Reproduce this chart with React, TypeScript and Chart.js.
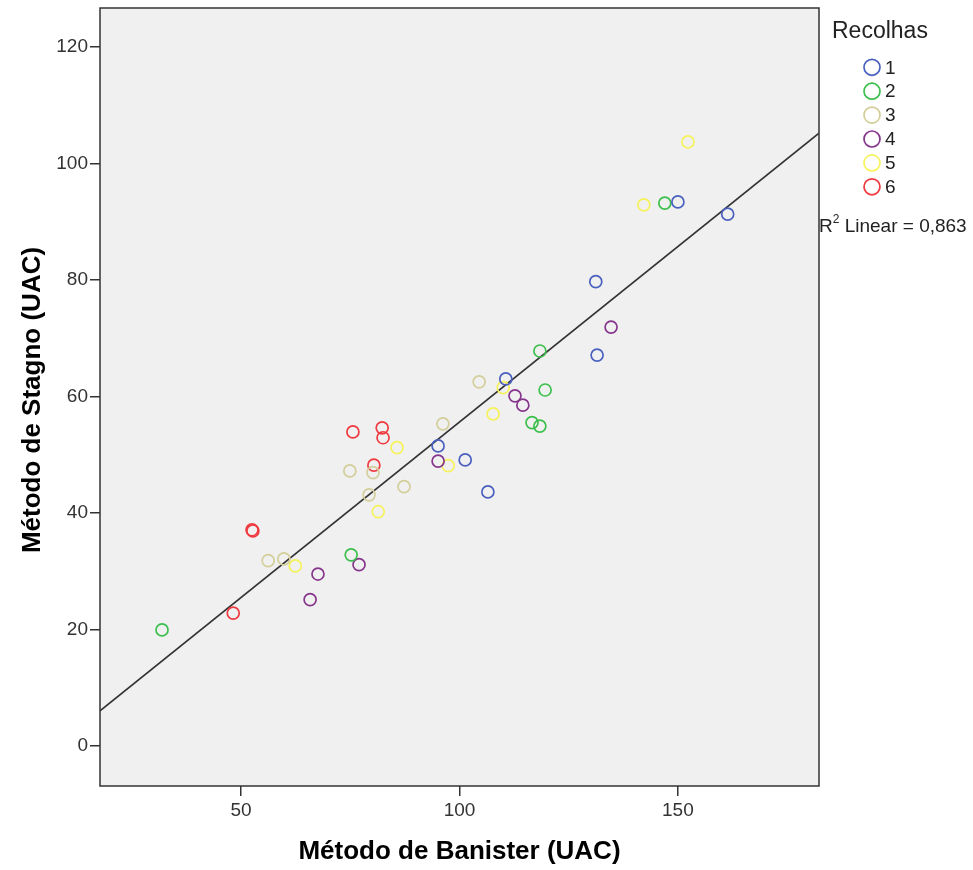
import React, { useEffect, useRef } from "react";
import { Chart, registerables } from "chart.js";

Chart.register(...registerables);

const FONT = "'Liberation Sans', Arial, sans-serif";

const X_TICKS = [50, 100, 150];
const Y_TICKS = [0, 20, 40, 60, 80, 100, 120];
const X_RANGE = [17.7, 182.3];
const Y_RANGE = [-6.9, 126.7];

const GROUPS = ["1", "2", "3", "4", "5", "6"];
const COLORS = ["#4a60bf", "#3cbf4c", "#d3ce9a", "#86358c", "#f6f25a", "#ef3a40"];

const G1_X = [161.4, 150.0, 131.2, 131.5, 110.6, 95.1, 101.3, 106.5];
const G1_Y = [91.3, 93.4, 79.7, 67.1, 63.0, 51.5, 49.1, 43.6];
const G2_X = [147.0, 118.4, 119.6, 116.6, 118.4, 75.2, 31.9];
const G2_Y = [93.2, 67.8, 61.1, 55.5, 54.9, 32.8, 19.9];
const G3_X = [104.5, 96.2, 74.9, 80.2, 87.3, 79.3, 56.2, 59.8];
const G3_Y = [62.5, 55.3, 47.2, 46.9, 44.5, 43.1, 31.8, 32.1];
const G4_X = [134.7, 112.7, 114.5, 95.1, 67.6, 77.0, 65.8];
const G4_Y = [71.9, 60.1, 58.5, 48.9, 29.5, 31.1, 25.1];
const G5_X = [152.3, 142.2, 110.0, 107.7, 85.7, 97.4, 81.4, 62.4];
const G5_Y = [103.7, 92.9, 61.5, 57.0, 51.2, 48.1, 40.2, 30.9];
const G6_X = [75.6, 82.3, 82.5, 80.4, 52.5, 52.7, 48.2];
const G6_Y = [53.9, 54.6, 52.9, 48.2, 37.1, 36.9, 22.8];

const GROUP_X = [G1_X, G2_X, G3_X, G4_X, G5_X, G6_X];
const GROUP_Y = [G1_Y, G2_Y, G3_Y, G4_Y, G5_Y, G6_Y];

const LINE_X = [17.7, 182.3];
const LINE_Y = [6.0, 105.2];

const LEGEND_TITLE = "Recolhas";
const X_TITLE = "Método de Banister (UAC)";
const Y_TITLE = "Método de Stagno (UAC)";
const R2_VALUE = "0,863";

const decorPlugin = {
  id: "decor",
  beforeDraw(chart: any) {
    const { ctx, chartArea: a } = chart;
    ctx.save();
    ctx.fillStyle = "#f0f0f0";
    ctx.fillRect(a.left, a.top, a.right - a.left, a.bottom - a.top);
    ctx.restore();
  },
  afterDraw(chart: any) {
    const { ctx, chartArea: a } = chart;
    ctx.save();
    // plot border
    ctx.strokeStyle = "#333";
    ctx.lineWidth = 1.5;
    ctx.strokeRect(a.left, a.top, a.right - a.left, a.bottom - a.top);

    // axis titles
    ctx.fillStyle = "#000";
    ctx.font = `bold 26px ${FONT}`;
    ctx.textAlign = "center";
    ctx.textBaseline = "middle";
    ctx.fillText(X_TITLE, (a.left + a.right) / 2, 852);
    ctx.save();
    ctx.translate(33, 400);
    ctx.rotate(-Math.PI / 2);
    ctx.fillText(Y_TITLE, 0, 0);
    ctx.restore();

    // legend
    ctx.textAlign = "left";
    ctx.fillStyle = "#222";
    ctx.font = `23px ${FONT}`;
    ctx.fillText(LEGEND_TITLE, 832, 32);
    ctx.font = `19px ${FONT}`;
    GROUPS.forEach((g, i) => {
      const cy = 67.3 + i * 23.9;
      ctx.beginPath();
      ctx.arc(872, cy, 8, 0, Math.PI * 2);
      ctx.strokeStyle = COLORS[i];
      ctx.lineWidth = 1.7;
      ctx.stroke();
      ctx.fillStyle = "#222";
      ctx.fillText(g, 885, cy + 1);
    });

    // R2 text
    ctx.textBaseline = "alphabetic";
    ctx.font = `19px ${FONT}`;
    let x = 819;
    ctx.fillText("R", x, 232);
    x += ctx.measureText("R").width;
    ctx.font = `12px ${FONT}`;
    ctx.fillText("2", x, 223);
    x += ctx.measureText("2").width;
    ctx.font = `19px ${FONT}`;
    ctx.fillText(` Linear = ${R2_VALUE}`, x, 232);
    ctx.restore();
  },
};

export default function App() {
  const ref = useRef<HTMLCanvasElement>(null);
  useEffect(() => {
    document.body.style.margin = "0";
    const datasets: any[] = GROUPS.map((g, i) => ({
      type: "scatter",
      label: g,
      data: GROUP_X[i].map((x, j) => ({ x, y: GROUP_Y[i][j] })),
      borderColor: COLORS[i],
      backgroundColor: "rgba(0,0,0,0)",
      pointRadius: 6,
      pointBorderWidth: 1.7,
      pointHoverRadius: 6,
    }));
    datasets.push({
      type: "line",
      label: "fit",
      data: LINE_X.map((x, j) => ({ x, y: LINE_Y[j] })),
      borderColor: "#333",
      borderWidth: 1.6,
      pointRadius: 0,
      fill: false,
    });
    const tickGrid = {
      display: true,
      drawOnChartArea: false,
      drawTicks: true,
      tickLength: 10,
      color: "#333",
      lineWidth: 1.5,
    };
    const chart = new Chart(ref.current!, {
      type: "scatter",
      data: { datasets },
      plugins: [decorPlugin],
      options: {
        animation: false,
        responsive: false,
        events: [],
        layout: { padding: { top: 8, right: 154, left: 0, bottom: 0 } },
        plugins: { legend: { display: false }, tooltip: { enabled: false } },
        scales: {
          x: {
            type: "linear",
            min: X_RANGE[0],
            max: X_RANGE[1],
            grid: tickGrid,
            border: { display: false },
            afterBuildTicks: (s: any) => {
              s.ticks = X_TICKS.map((v) => ({ value: v }));
            },
            afterFit: (s: any) => {
              s.height = 84;
              s.paddingLeft = 0;
              s.paddingRight = 0;
            },
            ticks: {
              color: "#333",
              font: { family: FONT, size: 19 },
              padding: 3,
              maxRotation: 0,
              callback: (v: any) => String(v),
            },
          },
          y: {
            type: "linear",
            min: Y_RANGE[0],
            max: Y_RANGE[1],
            grid: tickGrid,
            border: { display: false },
            afterBuildTicks: (s: any) => {
              s.ticks = Y_TICKS.map((v) => ({ value: v }));
            },
            afterFit: (s: any) => {
              s.width = 100;
              s.paddingTop = 0;
              s.paddingBottom = 0;
            },
            ticks: {
              color: "#333",
              font: { family: FONT, size: 19 },
              padding: 2,
              callback: (v: any) => String(v),
            },
          },
        },
      },
    } as any);
    return () => chart.destroy();
  }, []);
  return (
    <div style={{ width: 973, height: 870 }}>
      <canvas ref={ref} width={973} height={870} style={{ display: "block" }} />
    </div>
  );
}
